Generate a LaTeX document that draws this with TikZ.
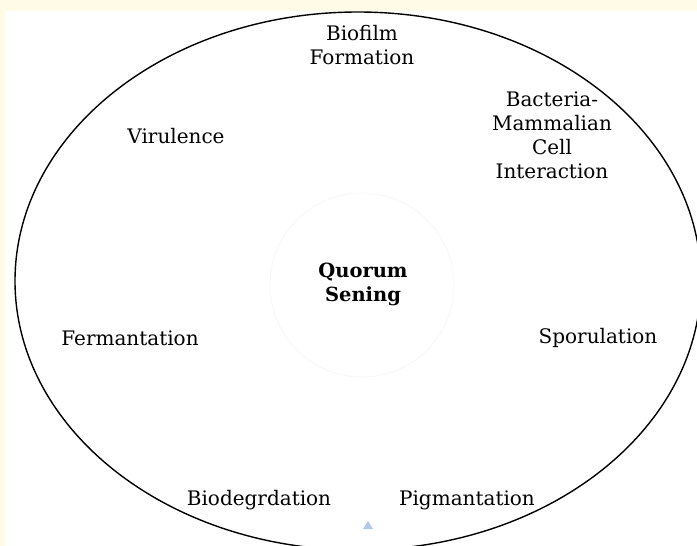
\documentclass[tikz,border=0pt]{standalone}
\usepackage{fontspec}
\setmainfont{DejaVu Serif}
\definecolor{creambg}{HTML}{FFFBE6}
\definecolor{tribl}{HTML}{B4C7E7}
\definecolor{faint}{HTML}{F7F7F7}
\begin{document}
\begin{tikzpicture}[x=1pt,y=-1pt,
  lbl/.style={align=center,inner sep=0pt,font=\fontsize{20}{24}\selectfont},
  ctr/.style={align=center,inner sep=0pt,font=\fontsize{19.5}{24}\selectfont\bfseries}]
\useasboundingbox (0,0) rectangle (697,546);
\clip (0,0) rectangle (697,546);
\fill[creambg] (0,0) rectangle (697,546);
\fill[white] (5,11) rectangle (697,546);
\draw[faint,line width=0.8pt] (362,285) circle [radius=92];
\draw[black,line width=1.4pt] (358,281) ellipse [x radius=343, y radius=269];
\node[lbl] (bio) at (362,45) {Biofilm\\Formation};
\node[lbl] (vir) at (176,136) {Virulence};
\node[lbl] (bac) at (552,135) {Bacteria-\\Mammalian\\Cell\\Interaction};
\node[ctr] (qs) at (363,284) {Quorum\\Sening};
\node[lbl] (fer) at (130,338) {Fermantation};
\node[lbl] (spo) at (598,338) {Sporulation};
\node[lbl] (bdg) at (259,500) {Biodegrdation};
\node[lbl] (pig) at (467,500) {Pigmantation};
\fill[tribl] (363,529) -- (373,529) -- (368,521) -- cycle;
\end{tikzpicture}
\end{document}
